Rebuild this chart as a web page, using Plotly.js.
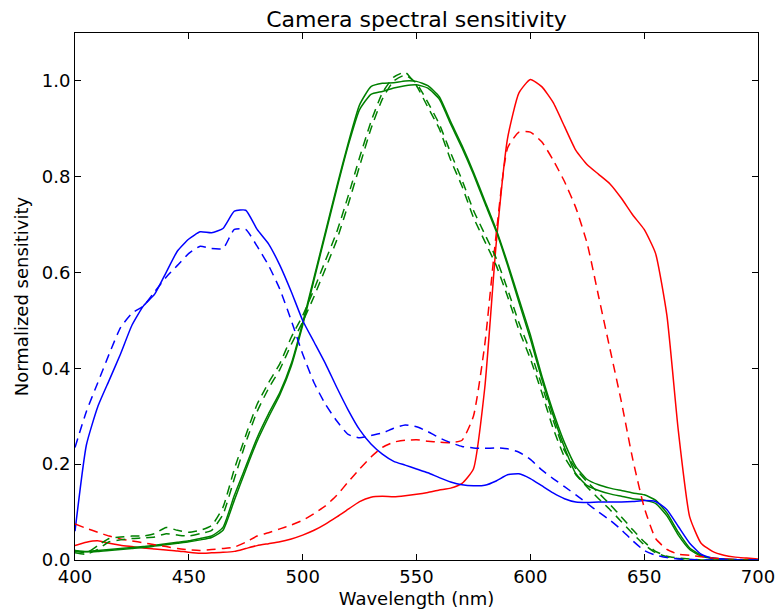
<!DOCTYPE html>
<html>
<head>
<meta charset="utf-8">
<script src="https://cdn.plot.ly/plotly-3.0.1.min.js"></script>
<style>
  html, body { margin: 0; padding: 0; background: #ffffff; }
  #chart { width: 776px; height: 615px; }
</style>
</head>
<body>
<div id="chart"></div>
<script>
// Wavelength grid (nm)
const wavelengths = [400,405,410,415,420,425,430,435,440,445,450,455,460,465,470,475,480,485,490,495,
  500,505,510,515,520,525,530,535,540,545,550,555,560,565,570,575,580,585,590,595,
  600,605,610,615,620,625,630,635,640,645,650,655,660,665,670,675,680,685,690,695,700];

// Camera 1 (solid)
const red1 = [0.030,0.037,0.040,0.035,0.031,0.028,0.025,0.023,0.021,0.019,0.016,0.014,0.015,0.016,0.018,0.024,0.030,0.034,0.038,0.044,
  0.052,0.062,0.075,0.090,0.106,0.122,0.131,0.133,0.132,0.134,0.137,0.141,0.146,0.150,0.160,0.190,0.360,0.660,0.880,0.975,
  1.003,0.988,0.955,0.905,0.855,0.825,0.805,0.785,0.755,0.720,0.690,0.640,0.510,0.270,0.090,0.035,0.018,0.010,0.006,0.004,0.002];
const greenA1 = [0.020,0.018,0.020,0.022,0.024,0.026,0.028,0.031,0.034,0.037,0.040,0.045,0.050,0.068,0.135,0.195,0.255,0.305,0.350,0.410,
  0.495,0.590,0.685,0.780,0.870,0.950,0.988,0.995,0.996,1.000,0.999,0.990,0.967,0.915,0.865,0.810,0.750,0.690,0.620,0.545,
  0.470,0.385,0.310,0.245,0.195,0.168,0.157,0.150,0.145,0.140,0.136,0.125,0.098,0.058,0.025,0.010,0.004,0.002,0.001,0.000,0.000];
const greenB1 = [0.018,0.017,0.018,0.020,0.022,0.024,0.026,0.029,0.032,0.035,0.038,0.042,0.047,0.062,0.125,0.188,0.248,0.298,0.345,0.405,
  0.490,0.585,0.680,0.775,0.865,0.940,0.972,0.978,0.985,0.990,0.992,0.985,0.962,0.910,0.860,0.805,0.745,0.686,0.615,0.538,
  0.462,0.378,0.302,0.235,0.180,0.155,0.145,0.138,0.133,0.128,0.125,0.118,0.092,0.052,0.022,0.008,0.003,0.001,0.000,0.000,0.000];
const blue1 = [0.060,0.240,0.320,0.375,0.430,0.490,0.530,0.555,0.600,0.645,0.670,0.685,0.683,0.692,0.728,0.730,0.690,0.660,0.615,0.560,
  0.500,0.455,0.410,0.360,0.313,0.272,0.242,0.221,0.206,0.198,0.190,0.182,0.172,0.163,0.157,0.155,0.156,0.165,0.178,0.180,
  0.170,0.155,0.140,0.128,0.121,0.120,0.121,0.121,0.121,0.122,0.124,0.122,0.105,0.070,0.035,0.012,0.004,0.002,0.001,0.000,0.000];

// Camera 2 (dashed)
const red2 = [0.075,0.066,0.058,0.050,0.044,0.040,0.036,0.032,0.028,0.024,0.021,0.020,0.022,0.024,0.027,0.037,0.050,0.057,0.065,0.073,
  0.083,0.097,0.113,0.135,0.163,0.190,0.215,0.235,0.246,0.250,0.251,0.248,0.246,0.245,0.250,0.300,0.450,0.680,0.860,0.893,
  0.893,0.873,0.835,0.790,0.735,0.660,0.550,0.440,0.330,0.210,0.110,0.045,0.022,0.012,0.010,0.007,0.004,0.002,0.001,0.001,0.000];
const greenA2 = [0.020,0.015,0.030,0.045,0.048,0.050,0.050,0.055,0.068,0.062,0.058,0.062,0.072,0.110,0.190,0.260,0.325,0.370,0.410,0.465,
  0.510,0.565,0.625,0.685,0.760,0.840,0.915,0.975,1.008,1.018,0.990,0.945,0.900,0.835,0.780,0.715,0.665,0.615,0.550,0.480,
  0.420,0.350,0.275,0.215,0.178,0.152,0.128,0.105,0.080,0.055,0.032,0.015,0.007,0.003,0.001,0.000,0.000,0.000,0.000,0.000,0.000];
const greenB2 = [0.015,0.012,0.022,0.038,0.042,0.045,0.046,0.048,0.055,0.052,0.050,0.055,0.062,0.095,0.170,0.245,0.310,0.358,0.398,0.450,
  0.497,0.550,0.608,0.668,0.742,0.822,0.900,0.962,1.000,1.012,0.995,0.955,0.910,0.850,0.793,0.730,0.680,0.630,0.565,0.495,
  0.435,0.365,0.292,0.228,0.190,0.163,0.140,0.116,0.090,0.063,0.038,0.018,0.008,0.004,0.002,0.000,0.000,0.000,0.000,0.000,0.000];
const blue2 = [0.235,0.310,0.370,0.430,0.485,0.515,0.530,0.560,0.590,0.615,0.640,0.655,0.650,0.650,0.690,0.690,0.655,0.615,0.565,0.500,
  0.430,0.370,0.325,0.290,0.262,0.255,0.260,0.265,0.275,0.282,0.278,0.268,0.255,0.245,0.237,0.234,0.233,0.234,0.232,0.225,
  0.210,0.188,0.170,0.153,0.136,0.118,0.100,0.083,0.063,0.040,0.020,0.010,0.005,0.002,0.001,0.000,0.000,0.000,0.000,0.000,0.000];

const xTicks = [400,450,500,550,600,650,700];
const yTicks = [0.0,0.2,0.4,0.6,0.8,1.0];

const RED = '#ff0000', GREEN = '#008000', BLUE = '#0000ff';
const DASH = '9px,6px';

function line(y, color, dashed) {
  return {
    x: wavelengths, y: y, type: 'scatter', mode: 'lines',
    line: { color: color, width: 1.5, dash: dashed ? DASH : 'solid', shape: 'spline', smoothing: 0.5 },
    hoverinfo: 'skip', showlegend: false
  };
}

const traces = [
  line(red1, RED, false),
  line(greenA1, GREEN, false),
  line(greenB1, GREEN, false),
  line(blue1, BLUE, false),
  line(red2, RED, true),
  line(greenA2, GREEN, true),
  line(greenB2, GREEN, true),
  line(blue2, BLUE, true)
];

const FONT = 'DejaVu Sans, sans-serif';

const layout = {
  width: 776, height: 615,
  margin: { l: 75, r: 18, t: 33, b: 55, pad: 0 },
  paper_bgcolor: '#ffffff', plot_bgcolor: '#ffffff',
  font: { family: FONT, size: 18, color: '#000000' },
  title: { text: 'Camera spectral sensitivity', font: { family: FONT, size: 22, color: '#000' },
           x: 0.5, xref: 'paper', y: 1, yref: 'paper', yanchor: 'bottom', pad: { b: 6 } },
  xaxis: {
    range: [400, 700], tickvals: xTicks, ticktext: xTicks.map(String),
    ticks: 'inside', ticklen: 6, tickwidth: 1, tickcolor: '#000',
    showline: true, linecolor: '#000', linewidth: 1, mirror: 'allticks',
    showgrid: false, zeroline: false,
    tickfont: { family: FONT, size: 18 },
    title: { text: 'Wavelength (nm)', font: { family: FONT, size: 18 }, standoff: 6 }
  },
  yaxis: {
    range: [0, 1.1], tickvals: yTicks, ticktext: yTicks.map(v => v.toFixed(1)),
    ticks: 'inside', ticklen: 6, tickwidth: 1, tickcolor: '#000',
    showline: true, linecolor: '#000', linewidth: 1, mirror: 'allticks',
    showgrid: false, zeroline: false,
    tickfont: { family: FONT, size: 18 },
    title: { text: 'Normalized sensitivity', font: { family: FONT, size: 18 }, standoff: 8 }
  }
};

Plotly.newPlot('chart', traces, layout, { displayModeBar: false, staticPlot: true });
</script>
</body>
</html>
